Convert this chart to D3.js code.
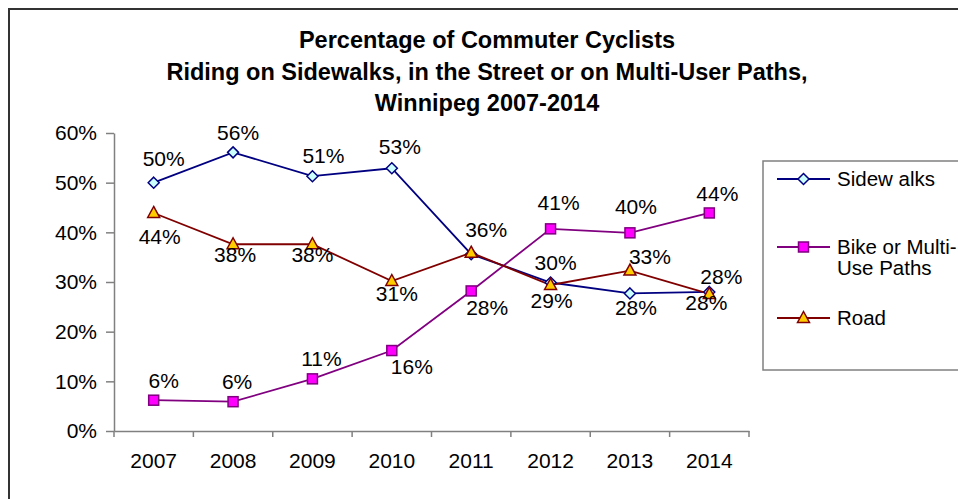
<!DOCTYPE html>
<html><head><meta charset="utf-8">
<script src="https://cdn.jsdelivr.net/npm/d3@7"></script>
<style>
html,body{margin:0;padding:0;background:#fff;}
svg{display:block;font-family:"Liberation Sans",Arial,sans-serif;}
</style></head>
<body>
<svg id="chart" width="958" height="499"></svg>
<script>
// ---- data ----
const years = ["2007","2008","2009","2010","2011","2012","2013","2014"];
const sidewalks = [0.50, 0.561, 0.513, 0.529, 0.356, 0.299, 0.277, 0.280];
const bikePaths = [0.062, 0.059, 0.105, 0.162, 0.282, 0.407, 0.399, 0.439];
const road      = [0.439, 0.376, 0.376, 0.302, 0.359, 0.294, 0.323, 0.276];
const sidewalkLabels = ["50%","56%","51%","53%","36%","30%","28%","28%"];
const bikeLabels     = ["6%","6%","11%","16%","28%","41%","40%","44%"];
const roadLabels     = ["44%","38%","38%","31%",null,"29%","33%","28%"];
const yTicks = [0,0.1,0.2,0.3,0.4,0.5,0.6];
const titleLines = ["Percentage of Commuter Cyclists",
  "Riding on Sidewalks, in the Street or on Multi-User Paths,",
  "Winnipeg 2007-2014"];
const legendNames = [["Sidew alks"],["Bike or Multi-","Use Paths"],["Road"]];

// ---- styling / placement (not data) ----
const seriesStyle = [
  {line:"#000080", fill:"#ccffff", stroke:"#000080", shape:"diamond"},
  {line:"#800080", fill:"#ff00ff", stroke:"#800080", shape:"square"},
  {line:"#800000", fill:"#ffcc00", stroke:"#800000", shape:"triangle"}
];
// label offsets relative to point (dx, dy of text centre)
const labelOffsets = [
  [[10,-24],[5,-20],[11,-21],[8,-22],[15,-25],[5,-20],[6,14],[12,-15]],
  [[10,-20],[4,-20],[9,-20],[20,16],[16,17],[8,-26],[6,-26],[8,-19]],
  [[6,24],[2,10],[0,10],[5,13],[0,0],[1,16],[20,-14],[-3,9]]
];
const FS = 21;

const svg = d3.select("#chart");
const W = 958, H = 499;
const x = d3.scaleBand().domain(years).range([114, 749]).padding(0);
const y = d3.scaleLinear().domain([0, 0.6]).range([431, 133]);

// outer frame (top and left visible)
svg.append("path").attr("d", `M9,${H} L9,9 L${W},9`)
  .attr("fill","none").attr("stroke","#333").attr("stroke-width",2);

// title
const title = svg.append("g").attr("font-weight","bold").attr("font-size",23.5)
  .attr("text-anchor","middle").attr("fill","#000");
const titleY = [48, 80, 111];
titleLines.forEach((t,i)=>{
  title.append("text").attr("x",487).attr("y",titleY[i]).text(t);
});

// y axis
const yAxis = d3.axisLeft(y).tickValues(yTicks).tickFormat(d3.format(".0%"))
  .tickSize(8).tickSizeOuter(0).tickPadding(9);
const gy = svg.append("g").attr("transform","translate(114,0)").call(yAxis);
gy.select(".domain").attr("stroke","#808080").attr("stroke-width",1.5);
gy.selectAll(".tick line").attr("stroke","#808080").attr("stroke-width",1.5);
gy.selectAll(".tick text").attr("font-size",FS).attr("fill","#000")
  .attr("font-family","Liberation Sans, Arial, sans-serif");

// x axis
const xAxis = d3.axisBottom(x).tickSize(0).tickSizeOuter(0).tickPadding(22);
const gx = svg.append("g").attr("transform","translate(0,431)").call(xAxis);
gx.select(".domain").attr("stroke","#808080").attr("stroke-width",1.5);
gx.selectAll(".tick text").attr("font-size",FS).attr("fill","#000")
  .attr("font-family","Liberation Sans, Arial, sans-serif");
// boundary ticks between categories
const bounds = years.map(d=>x(d)).concat([x(years[years.length-1]) + x.bandwidth()]);
gx.selectAll(".btick").data(bounds).join("line").attr("class","btick")
  .attr("x1",d=>d).attr("x2",d=>d).attr("y1",0).attr("y2",6)
  .attr("stroke","#808080").attr("stroke-width",1.5);

const cx = d => x(d) + x.bandwidth()/2;
const allSeries = [sidewalks, bikePaths, road];
const allLabels = [sidewalkLabels, bikeLabels, roadLabels];

function marker(g, shape, st){
  if(shape==="diamond"){
    g.append("path").attr("d","M0,-5.5 L5.5,0 L0,5.5 L-5.5,0 Z");
  } else if(shape==="square"){
    g.append("rect").attr("x",-5).attr("y",-5).attr("width",10).attr("height",10);
  } else {
    g.append("path").attr("d","M0,-6.5 L6,4.5 L-6,4.5 Z");
  }
  g.selectAll("path,rect").attr("fill",st.fill).attr("stroke",st.stroke).attr("stroke-width",1.5);
}

const line = d3.line().x((d,i)=>cx(years[i])).y(d=>y(d));
allSeries.forEach((vals, s)=>{
  const st = seriesStyle[s];
  svg.append("path").datum(vals).attr("d", line)
    .attr("fill","none").attr("stroke",st.line).attr("stroke-width",1.8);
});
allSeries.forEach((vals, s)=>{
  const st = seriesStyle[s];
  vals.forEach((v,i)=>{
    const g = svg.append("g").attr("transform",`translate(${cx(years[i])},${y(v)})`);
    marker(g, st.shape, st);
  });
});
// data labels
allSeries.forEach((vals, s)=>{
  vals.forEach((v,i)=>{
    const lab = allLabels[s][i];
    if(!lab) return;
    const o = labelOffsets[s][i];
    svg.append("text").attr("x", cx(years[i]) + o[0]).attr("y", y(v) + o[1])
      .attr("dy","0.35em").attr("text-anchor","middle").attr("font-size",FS)
      .attr("fill","#000").text(lab);
  });
});

// legend
const lg = svg.append("g");
lg.append("rect").attr("x",763).attr("y",161).attr("width",260).attr("height",209)
  .attr("fill","#fff").attr("stroke","#808080").attr("stroke-width",1.5);
const legY = [179, 247, 318];
legendNames.forEach((names, s)=>{
  const st = seriesStyle[s];
  lg.append("line").attr("x1",777).attr("x2",830).attr("y1",legY[s]).attr("y2",legY[s])
    .attr("stroke",st.line).attr("stroke-width",1.8);
  const g = lg.append("g").attr("transform",`translate(803.5,${legY[s]})`);
  marker(g, st.shape, st);
  names.forEach((n,k)=>{
    lg.append("text").attr("x",837).attr("y",legY[s] + k*21).attr("dy","0.35em")
      .attr("font-size",20.5).attr("fill","#000").text(n);
  });
});
</script>
</body></html>
